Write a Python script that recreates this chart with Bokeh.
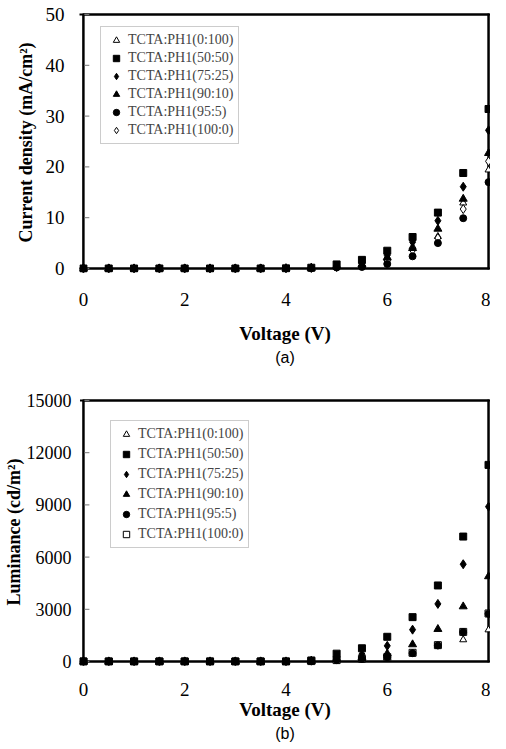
import math
from bokeh.plotting import figure
from bokeh.models import Range1d, FixedTicker, Legend, LegendItem, Title
from bokeh.layouts import column
from bokeh.embed import file_html
from bokeh.resources import INLINE

# ---------------- data ----------------
voltage = [0, 0.5, 1, 1.5, 2, 2.5, 3, 3.5, 4, 4.5, 5, 5.5, 6, 6.5, 7, 7.5, 8]
x_ticks = [0, 2, 4, 6, 8]

labels = ["TCTA:PH1(0:100)", "TCTA:PH1(50:50)", "TCTA:PH1(75:25)",
          "TCTA:PH1(90:10)", "TCTA:PH1(95:5)", "TCTA:PH1(100:0)"]

# (a) current density, mA/cm^2
j_0_100 = [0, 0, 0, 0, 0, 0, 0, 0, 0.02, 0.1, 0.3, 0.7, 2.0, 4.3, 6.3, 12.9, 19.4]
j_50_50 = [0, 0, 0, 0, 0, 0, 0, 0, 0.03, 0.15, 0.8, 1.7, 3.5, 6.2, 11.0, 18.8, 31.4]
j_75_25 = [0, 0, 0, 0, 0, 0, 0, 0, 0.02, 0.1, 0.5, 1.0, 2.6, 5.2, 9.4, 16.1, 27.2]
j_90_10 = [0, 0, 0, 0, 0, 0, 0, 0, 0.02, 0.1, 0.4, 0.8, 2.2, 4.0, 7.8, 13.7, 22.7]
j_95_5 = [0, 0, 0, 0, 0, 0, 0, 0, 0.01, 0.05, 0.2, 0.3, 0.9, 2.4, 5.0, 9.9, 17.0]
j_100_0 = [0, 0, 0, 0, 0, 0, 0, 0, 0.01, 0.08, 0.3, 0.6, 1.5, 3.6, 6.0, 11.7, 21.1]
j_ticks = [0, 10, 20, 30, 40, 50]

# (b) luminance, cd/m^2
l_0_100 = [0, 0, 0, 0, 0, 0, 0, 0, 0, 20, 60, 120, 230, 480, 900, 1250, 1820]
l_50_50 = [0, 0, 0, 0, 0, 0, 0, 0, 0, 60, 450, 760, 1420, 2550, 4370, 7180, 11300]
l_75_25 = [0, 0, 0, 0, 0, 0, 0, 0, 0, 40, 220, 420, 900, 1830, 3310, 5590, 8900]
l_90_10 = [0, 0, 0, 0, 0, 0, 0, 0, 0, 30, 130, 230, 450, 980, 1860, 3160, 4890]
l_95_5 = [0, 0, 0, 0, 0, 0, 0, 0, 0, 20, 80, 150, 250, 480, 920, 1690, 2740]
l_100_0 = [0, 0, 0, 0, 0, 0, 0, 0, 0, 20, 80, 150, 250, 500, 940, 1700, 2760]
l_ticks = [0, 3000, 6000, 9000, 12000, 15000]

SERIF = "Liberation Serif"
W = 490
PAD_L, PAD_R, PAD_B, PAD_T = 4, 2, 4, 2
TICK_LEN = 5
DRAW_ORDER = [0, 5, 4, 3, 2, 1]   # filled squares end up on top


def build(height, b_top, b_bottom, b_left, series, styles, y_ticks, y_label,
          tag, tick_std_y, lab_std_y, tick_std_x, lab_std_x, ytick_size,
          legend_loc, legend_spacing):
    p = figure(width=W, height=height, output_backend="svg", toolbar_location=None,
               min_border_left=b_left, min_border_right=0,
               min_border_top=b_top, min_border_bottom=b_bottom)
    frame_w = W - b_left
    frame_h = height - b_top - b_bottom
    x0, x1 = x_ticks[0], x_ticks[-1]
    y0, y1 = y_ticks[0], y_ticks[-1]
    xppu = (frame_w - PAD_L - PAD_R) / (x1 - x0)
    yppu = (frame_h - PAD_B - PAD_T) / (y1 - y0)
    p.x_range = Range1d(x0 - PAD_L / xppu, x1 + PAD_R / xppu)
    p.y_range = Range1d(y0 - PAD_B / yppu, y1 + PAD_T / yppu)

    p.outline_line_color = None
    p.xgrid.grid_line_color = None
    p.ygrid.grid_line_color = None

    xa = p.xaxis[0]
    xa.ticker = FixedTicker(ticks=x_ticks, minor_ticks=[])
    xa.major_tick_in = 0
    xa.major_tick_out = 0
    xa.axis_line_color = None
    xa.major_label_text_font = SERIF
    xa.major_label_text_font_size = "19px"
    xa.major_label_text_color = "black"
    xa.major_label_standoff = tick_std_x
    xa.axis_label = "Voltage (V)"
    xa.axis_label_text_font = SERIF
    xa.axis_label_text_font_style = "bold"
    xa.axis_label_text_font_size = "19px"
    xa.axis_label_text_color = "black"
    xa.axis_label_standoff = lab_std_x

    ya = p.yaxis[0]
    ya.ticker = FixedTicker(ticks=y_ticks, minor_ticks=[])
    ya.major_tick_in = 0
    ya.major_tick_out = 0
    ya.axis_line_color = None
    ya.major_label_text_font = SERIF
    ya.major_label_text_font_size = ytick_size
    ya.major_label_text_color = "black"
    ya.major_label_standoff = tick_std_y
    ya.axis_label = y_label
    ya.axis_label_text_font = SERIF
    ya.axis_label_text_font_style = "bold"
    ya.axis_label_text_font_size = "18px"
    ya.axis_label_text_color = "black"
    ya.axis_label_standoff = lab_std_y

    # plot box: filled (nearly transparent) rectangle with a black border
    p.quad(left=[x0], right=[x1], bottom=[y0], top=[y1],
           fill_color="white", fill_alpha=0.01, line_color="black", line_width=2)

    # same box edges drawn again as line markers (coincide with the quad border)
    xm = (x0 + x1) / 2
    ym = (y0 + y1) / 2
    p.scatter(x=[xm, xm], y=[y0, y1], marker="dash", size=(x1 - x0) * xppu,
              line_color="black", line_width=2, line_cap="square")
    p.scatter(x=[x0, x1], y=[ym, ym], marker="dash", size=(y1 - y0) * yppu,
              angle=math.pi / 2, line_color="black", line_width=2, line_cap="square")

    # inner tick marks on the left box edge
    p.scatter(x=[x0 + (1 + TICK_LEN / 2) / xppu] * len(y_ticks), y=y_ticks,
              marker="dash", size=TICK_LEN, line_color="#777777", line_width=1)

    renderers = [None] * len(series)
    for i in DRAW_ORDER:
        marker, fill, size = styles[i]
        renderers[i] = p.scatter(voltage, series[i], marker=marker, size=size,
                                 fill_color=fill, line_color="black", line_width=1)
    items = [LegendItem(label=lab, renderers=[r]) for lab, r in zip(labels, renderers)]
    leg = Legend(items=items, location=legend_loc,
                 label_text_font=SERIF, label_text_font_size="14px",
                 label_height=16, glyph_height=16, glyph_width=20,
                 label_standoff=2, padding=5, spacing=legend_spacing,
                 border_line_color="#9a9a9a", border_line_width=1,
                 background_fill_color="white", background_fill_alpha=1)
    p.add_layout(leg)

    p.add_layout(Title(text=tag, align="center", text_font="Liberation Sans",
                       text_font_size="16px", text_font_style="normal",
                       text_color="black", standoff=0), "below")
    return p


styles_a = [("triangle", "white", 7), ("square", "black", 7), ("diamond", "black", 9),
            ("triangle", "black", 8), ("circle", "black", 7), ("diamond", "white", 9)]
styles_b = [("triangle", "white", 7), ("square", "black", 7), ("diamond", "black", 9),
            ("triangle", "black", 8), ("circle", "black", 7), ("square", "white", 7)]

p1 = build(372, 12, 100, 69,
           [j_0_100, j_50_50, j_75_25, j_90_10, j_95_5, j_100_0], styles_a,
           j_ticks, "Current density (mA/cm\u00b2)", "(a)",
           15, 7, 20, 14, "19px", (21, 128), 2)

p2 = build(373, 26, 80, 74,
           [l_0_100, l_50_50, l_75_25, l_90_10, l_95_5, l_100_0], styles_b,
           l_ticks, "Luminance (cd/m\u00b2)", "(b)",
           8, 0, 17, 0, "18px", (31, 117), 4)

layout = column(p1, p2)
open("out.html", "w").write(file_html(layout, INLINE))
